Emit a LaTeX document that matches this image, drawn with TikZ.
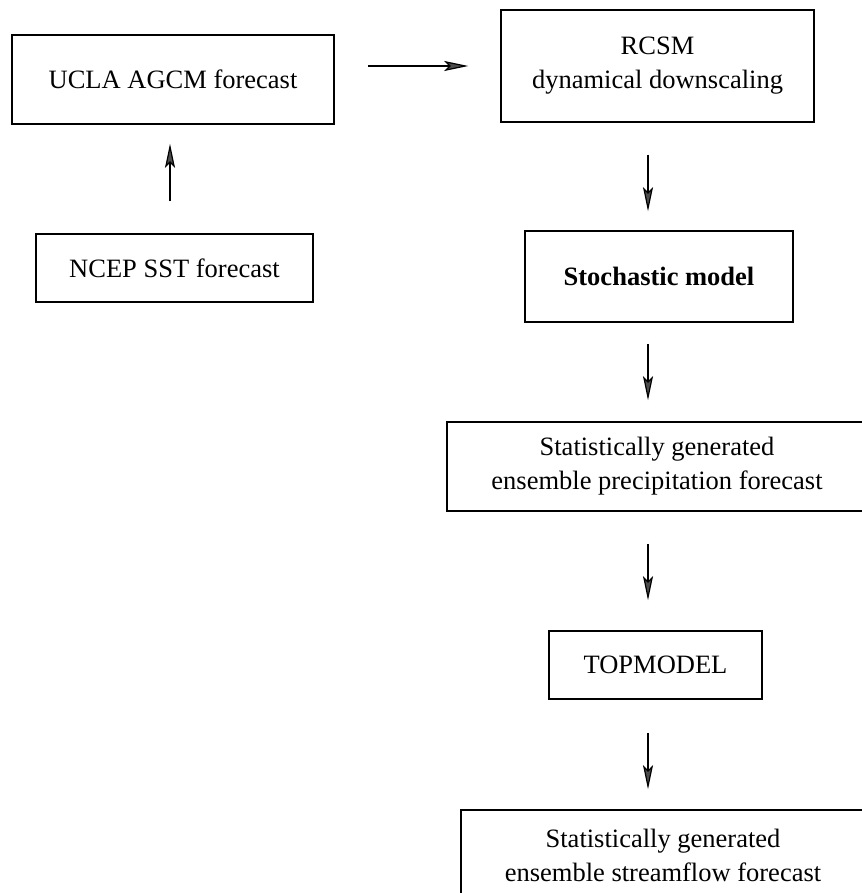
\documentclass[tikz,border=0pt]{standalone}
\usepackage{fontspec}
\setmainfont{Liberation Serif}
\usetikzlibrary{arrows.meta}

\begin{document}
\begin{tikzpicture}[x=1pt, y=-1pt,
        box/.style={draw, line width=1.5pt, inner sep=0pt, align=center, font=\fontsize{26.5}{34}\selectfont},
        flow/.style={line width=1.2pt, black, -{Stealth[length=24pt, width=10pt, inset=5pt, fill=black!70]}}]
        \useasboundingbox (0,0) rectangle (861,893);
        \coordinate (lcol) at (170,0);
        \coordinate (rcol) at (648,0);
        \node[box, minimum width=322pt, minimum height=89pt] (ucla) at (173,79.5) {UCLA AGCM forecast};
        \node[box, minimum width=277pt, minimum height=68pt] (ncep) at (174.5,268) {NCEP SST forecast};
        \node[box, minimum width=313pt, minimum height=112pt] (rcsm) at (657.5,66) {RCSM\\dynamical downscaling};
        \node[box, minimum width=268pt, minimum height=91pt] (stoch) at (659,276.5) {\bfseries Stochastic model};
        \node[box, minimum width=420pt, minimum height=89pt] (precip) at (657,466.5) {Statistically generated\\ensemble precipitation forecast};
        \node[box, minimum width=213pt, minimum height=68pt] (topm) at (655.5,665) {TOPMODEL};
        \node[box, minimum width=404pt, minimum height=90pt] (stream) at (663,855) {Statistically generated\\ensemble streamflow forecast};
        \draw[flow, shorten <=32pt, shorten >=19pt] (ncep.north -| lcol) -- (ucla.south -| lcol);
        \draw[flow, shorten <=33pt, shorten >=32pt] (ucla.east |- rcsm.west) -- (rcsm.west);
        \draw[flow, shorten <=32pt, shorten >=19pt] (rcsm.south -| rcol) -- (stoch.north -| rcol);
        \draw[flow, shorten <=21pt, shorten >=21pt] (stoch.south -| rcol) -- (precip.north -| rcol);
        \draw[flow, shorten <=32pt, shorten >=30pt] (precip.south -| rcol) -- (topm.north -| rcol);
        \draw[flow, shorten <=33pt, shorten >=20pt] (topm.south -| rcol) -- (stream.north -| rcol);
\end{tikzpicture}
\end{document}
